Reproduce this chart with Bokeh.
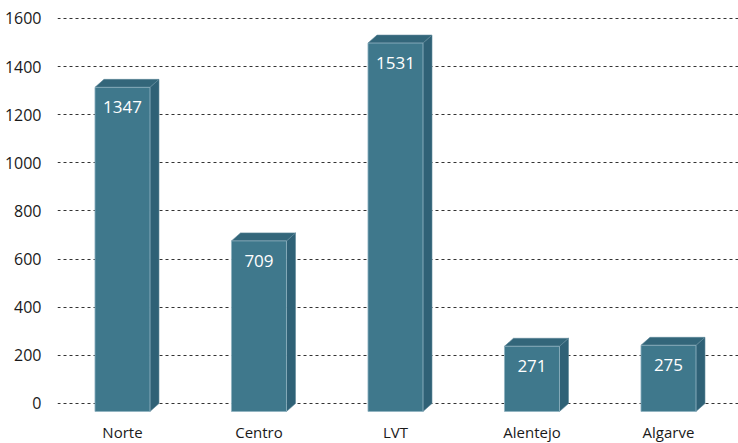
from bokeh.plotting import figure
from bokeh.models import Range1d, FixedTicker, ColumnDataSource
from bokeh.embed import file_html
from bokeh.resources import INLINE
from bokeh.core.properties import value

regions = ["Norte", "Centro", "LVT", "Alentejo", "Algarve"]
counts = [1347, 709, 1531, 271, 275]
y_ticks = [0, 200, 400, 600, 800, 1000, 1200, 1400, 1600]

FRONT = "#3f788c"
SIDE = "#2f6176"
TOP = "#33667a"

p = figure(frame_width=681, frame_height=405, output_backend="svg",
           toolbar_location=None, min_border_left=57, min_border_right=0,
           min_border_top=10, min_border_bottom=24,
           x_range=Range1d(-0.476, 4.513), y_range=Range1d(-49.9, 1633.2))
p.outline_line_color = None
p.background_fill_color = "white"
p.border_fill_color = "white"

# depth of the 3D effect in data units
half = 0.2015
dx = 0.066
dy = 33.2

xs_front, ys_front, xs_side, ys_side, xs_top, ys_top = [], [], [], [], [], []
for i, v in enumerate(counts):
    l, r = i - half, i + half
    b, t = -dy, v - dy
    xs_front.append([l, r, r, l]); ys_front.append([b, b, t, t])
    xs_side.append([r, r + dx, r + dx, r]); ys_side.append([b, b + dy, t + dy, t])
    xs_top.append([l, r, r + dx, l + dx]); ys_top.append([t, t, t + dy, t + dy])

p.patches(xs_side, ys_side, fill_color=SIDE, line_color="#5d8799", line_width=0.6)
p.patches(xs_top, ys_top, fill_color=TOP, line_color="#5d8799", line_width=0.6)
p.patches(xs_front, ys_front, fill_color=FRONT, line_color="#8fb1c0", line_width=0.8)

src = ColumnDataSource(dict(x=list(range(len(counts))),
                            y=[v - dy for v in counts],
                            t=[str(v) for v in counts]))
p.text(x="x", y="y", text="t", source=src, text_align="center",
       text_baseline="middle", y_offset=20, text_color="white",
       text_font=value("Open Sans"), text_font_size="17px")

p.yaxis.ticker = FixedTicker(ticks=y_ticks)
p.xaxis.ticker = FixedTicker(ticks=list(range(len(regions))))
p.xaxis.major_label_overrides = {i: r for i, r in enumerate(regions)}
for ax in (p.xaxis, p.yaxis):
    ax.axis_line_color = None
    ax.major_tick_line_color = None
    ax.minor_tick_line_color = None
    ax.major_label_text_font = "Open Sans"
    ax.major_label_text_color = "#1a1a1a"
p.yaxis.major_label_text_font_size = "16px"
p.xaxis.major_label_text_font_size = "15px"
p.yaxis.major_label_standoff = 10
p.xaxis.major_label_standoff = 0

p.xgrid.grid_line_color = None
p.ygrid.ticker = FixedTicker(ticks=y_ticks)
p.ygrid.grid_line_color = "#333333"
p.ygrid.grid_line_dash = "3 3"
p.ygrid.grid_line_width = 1

open("out.html", "w").write(file_html(p, INLINE))
